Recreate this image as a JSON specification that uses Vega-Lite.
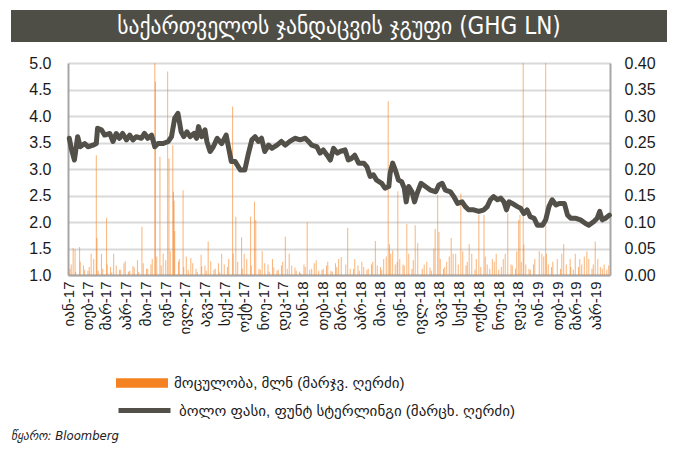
{
  "$schema": "https://vega.github.io/schema/vega-lite/v6.json",
  "padding": {"left": 11, "top": 10, "right": 5, "bottom": 5},
  "background": "white",
  "bounds": "flush",
  "center": true,
  "spacing": 21,
  "config": {"font": "Liberation Sans, DejaVu Sans", "view": {"stroke": null}},
  "title": {"text": "წყარო: Bloomberg", "orient": "bottom", "anchor": "start", "frame": "bounds", "fontSize": 13, "fontStyle": "italic", "fontWeight": "normal", "color": "#222222", "offset": 9, "font": "Liberation Sans Narrow, DejaVu Sans Condensed, DejaVu Sans"},
  "datasets": {
    "price": [
      {"d": "2017-01-03", "p": 3.58}, {"d": "2017-01-06", "p": 3.39}, {"d": "2017-01-11", "p": 3.17}, {"d": "2017-01-16", "p": 3.61},
      {"d": "2017-01-20", "p": 3.42}, {"d": "2017-01-27", "p": 3.48}, {"d": "2017-02-01", "p": 3.42}, {"d": "2017-02-09", "p": 3.45},
      {"d": "2017-02-14", "p": 3.48}, {"d": "2017-02-16", "p": 3.77}, {"d": "2017-02-22", "p": 3.74}, {"d": "2017-02-27", "p": 3.64},
      {"d": "2017-03-07", "p": 3.67}, {"d": "2017-03-12", "p": 3.52}, {"d": "2017-03-17", "p": 3.67}, {"d": "2017-03-22", "p": 3.58},
      {"d": "2017-03-27", "p": 3.67}, {"d": "2017-04-02", "p": 3.55}, {"d": "2017-04-07", "p": 3.64}, {"d": "2017-04-12", "p": 3.55},
      {"d": "2017-04-17", "p": 3.61}, {"d": "2017-04-25", "p": 3.58}, {"d": "2017-04-30", "p": 3.67}, {"d": "2017-05-05", "p": 3.58},
      {"d": "2017-05-11", "p": 3.64}, {"d": "2017-05-16", "p": 3.42}, {"d": "2017-05-21", "p": 3.48}, {"d": "2017-05-29", "p": 3.48},
      {"d": "2017-06-06", "p": 3.52}, {"d": "2017-06-11", "p": 3.61}, {"d": "2017-06-16", "p": 3.96}, {"d": "2017-06-21", "p": 4.05},
      {"d": "2017-06-26", "p": 3.70}, {"d": "2017-06-30", "p": 3.61}, {"d": "2017-07-05", "p": 3.70}, {"d": "2017-07-10", "p": 3.61},
      {"d": "2017-07-16", "p": 3.67}, {"d": "2017-07-20", "p": 3.58}, {"d": "2017-07-23", "p": 3.80}, {"d": "2017-07-28", "p": 3.61},
      {"d": "2017-08-02", "p": 3.74}, {"d": "2017-08-05", "p": 3.52}, {"d": "2017-08-10", "p": 3.33}, {"d": "2017-08-15", "p": 3.42},
      {"d": "2017-08-21", "p": 3.58}, {"d": "2017-08-28", "p": 3.48}, {"d": "2017-09-04", "p": 3.64}, {"d": "2017-09-07", "p": 3.45},
      {"d": "2017-09-12", "p": 3.14}, {"d": "2017-09-18", "p": 3.14}, {"d": "2017-09-26", "p": 2.98}, {"d": "2017-10-03", "p": 2.98},
      {"d": "2017-10-08", "p": 3.26}, {"d": "2017-10-14", "p": 3.55}, {"d": "2017-10-19", "p": 3.61}, {"d": "2017-10-24", "p": 3.52},
      {"d": "2017-10-29", "p": 3.58}, {"d": "2017-11-03", "p": 3.33}, {"d": "2017-11-09", "p": 3.45}, {"d": "2017-11-14", "p": 3.39},
      {"d": "2017-11-22", "p": 3.45}, {"d": "2017-11-29", "p": 3.52}, {"d": "2017-12-05", "p": 3.45}, {"d": "2017-12-12", "p": 3.52},
      {"d": "2017-12-20", "p": 3.58}, {"d": "2017-12-28", "p": 3.55}, {"d": "2018-01-05", "p": 3.58}, {"d": "2018-01-10", "p": 3.52},
      {"d": "2018-01-15", "p": 3.45}, {"d": "2018-01-23", "p": 3.42}, {"d": "2018-01-28", "p": 3.30}, {"d": "2018-02-02", "p": 3.36},
      {"d": "2018-02-08", "p": 3.26}, {"d": "2018-02-13", "p": 3.17}, {"d": "2018-02-18", "p": 3.39}, {"d": "2018-02-24", "p": 3.30},
      {"d": "2018-02-28", "p": 3.33}, {"d": "2018-03-08", "p": 3.36}, {"d": "2018-03-13", "p": 3.17}, {"d": "2018-03-18", "p": 3.20},
      {"d": "2018-03-23", "p": 3.26}, {"d": "2018-03-29", "p": 3.11}, {"d": "2018-04-06", "p": 3.11}, {"d": "2018-04-11", "p": 3.04},
      {"d": "2018-04-16", "p": 2.86}, {"d": "2018-04-21", "p": 2.89}, {"d": "2018-04-26", "p": 2.79}, {"d": "2018-05-04", "p": 2.73},
      {"d": "2018-05-09", "p": 2.64}, {"d": "2018-05-15", "p": 2.67}, {"d": "2018-05-17", "p": 2.92}, {"d": "2018-05-21", "p": 3.11},
      {"d": "2018-05-26", "p": 2.95}, {"d": "2018-05-30", "p": 2.79}, {"d": "2018-06-04", "p": 2.76}, {"d": "2018-06-08", "p": 2.64},
      {"d": "2018-06-11", "p": 2.38}, {"d": "2018-06-15", "p": 2.67}, {"d": "2018-06-20", "p": 2.57}, {"d": "2018-06-24", "p": 2.38},
      {"d": "2018-06-28", "p": 2.54}, {"d": "2018-07-04", "p": 2.73}, {"d": "2018-07-11", "p": 2.67}, {"d": "2018-07-19", "p": 2.60},
      {"d": "2018-07-27", "p": 2.57}, {"d": "2018-08-01", "p": 2.70}, {"d": "2018-08-06", "p": 2.73}, {"d": "2018-08-11", "p": 2.60},
      {"d": "2018-08-19", "p": 2.57}, {"d": "2018-08-24", "p": 2.48}, {"d": "2018-08-30", "p": 2.35}, {"d": "2018-09-06", "p": 2.38},
      {"d": "2018-09-11", "p": 2.29}, {"d": "2018-09-16", "p": 2.23}, {"d": "2018-09-24", "p": 2.23}, {"d": "2018-10-02", "p": 2.20},
      {"d": "2018-10-10", "p": 2.23}, {"d": "2018-10-15", "p": 2.29}, {"d": "2018-10-20", "p": 2.42}, {"d": "2018-10-25", "p": 2.48},
      {"d": "2018-10-31", "p": 2.42}, {"d": "2018-11-05", "p": 2.45}, {"d": "2018-11-10", "p": 2.38}, {"d": "2018-11-14", "p": 2.23},
      {"d": "2018-11-18", "p": 2.38}, {"d": "2018-11-23", "p": 2.35}, {"d": "2018-12-01", "p": 2.29}, {"d": "2018-12-06", "p": 2.26},
      {"d": "2018-12-11", "p": 2.16}, {"d": "2018-12-16", "p": 2.23}, {"d": "2018-12-21", "p": 2.10}, {"d": "2018-12-27", "p": 2.07},
      {"d": "2019-01-01", "p": 1.94}, {"d": "2019-01-09", "p": 1.94}, {"d": "2019-01-14", "p": 2.04}, {"d": "2019-01-19", "p": 2.29},
      {"d": "2019-01-24", "p": 2.42}, {"d": "2019-01-30", "p": 2.32}, {"d": "2019-02-04", "p": 2.35}, {"d": "2019-02-12", "p": 2.35},
      {"d": "2019-02-17", "p": 2.13}, {"d": "2019-02-22", "p": 2.07}, {"d": "2019-03-02", "p": 2.07}, {"d": "2019-03-09", "p": 2.04},
      {"d": "2019-03-17", "p": 1.97}, {"d": "2019-03-22", "p": 1.94}, {"d": "2019-03-30", "p": 2.01}, {"d": "2019-04-04", "p": 2.07},
      {"d": "2019-04-08", "p": 2.20}, {"d": "2019-04-12", "p": 2.04}, {"d": "2019-04-17", "p": 2.07}, {"d": "2019-04-23", "p": 2.13}
    ],
    "vol": [
      {"d": "2017-01-04", "v": 0.012}, {"d": "2017-01-09", "v": 0.051}, {"d": "2017-01-12", "v": 0.048}, {"d": "2017-01-19", "v": 0.053},
      {"d": "2017-01-25", "v": 0.018}, {"d": "2017-02-01", "v": 0.008}, {"d": "2017-02-06", "v": 0.040}, {"d": "2017-02-14", "v": 0.226},
      {"d": "2017-02-15", "v": 0.070}, {"d": "2017-02-22", "v": 0.040}, {"d": "2017-03-02", "v": 0.108}, {"d": "2017-03-08", "v": 0.015},
      {"d": "2017-03-13", "v": 0.040}, {"d": "2017-03-22", "v": 0.010}, {"d": "2017-03-29", "v": 0.022}, {"d": "2017-04-05", "v": 0.006},
      {"d": "2017-04-12", "v": 0.017}, {"d": "2017-04-19", "v": 0.028}, {"d": "2017-04-26", "v": 0.091}, {"d": "2017-05-03", "v": 0.012},
      {"d": "2017-05-10", "v": 0.020}, {"d": "2017-05-16", "v": 0.550}, {"d": "2017-05-17", "v": 0.365}, {"d": "2017-05-24", "v": 0.223},
      {"d": "2017-05-29", "v": 0.040}, {"d": "2017-06-05", "v": 0.384}, {"d": "2017-06-07", "v": 0.220}, {"d": "2017-06-13", "v": 0.245},
      {"d": "2017-06-14", "v": 0.157}, {"d": "2017-06-15", "v": 0.140}, {"d": "2017-06-16", "v": 0.083}, {"d": "2017-06-22", "v": 0.025},
      {"d": "2017-06-29", "v": 0.160}, {"d": "2017-07-04", "v": 0.035}, {"d": "2017-07-11", "v": 0.032}, {"d": "2017-07-19", "v": 0.012},
      {"d": "2017-07-27", "v": 0.038}, {"d": "2017-08-02", "v": 0.018}, {"d": "2017-08-07", "v": 0.063}, {"d": "2017-08-16", "v": 0.010},
      {"d": "2017-08-23", "v": 0.022}, {"d": "2017-08-28", "v": 0.040}, {"d": "2017-09-06", "v": 0.015}, {"d": "2017-09-14", "v": 0.318},
      {"d": "2017-09-19", "v": 0.110}, {"d": "2017-09-28", "v": 0.071}, {"d": "2017-10-02", "v": 0.040}, {"d": "2017-10-12", "v": 0.110},
      {"d": "2017-10-18", "v": 0.138}, {"d": "2017-10-20", "v": 0.104}, {"d": "2017-10-25", "v": 0.012}, {"d": "2017-10-30", "v": 0.045},
      {"d": "2017-11-08", "v": 0.020}, {"d": "2017-11-15", "v": 0.030}, {"d": "2017-11-22", "v": 0.008}, {"d": "2017-11-29", "v": 0.018},
      {"d": "2017-12-05", "v": 0.072}, {"d": "2017-12-11", "v": 0.040}, {"d": "2017-12-20", "v": 0.014}, {"d": "2017-12-27", "v": 0.006},
      {"d": "2018-01-03", "v": 0.020}, {"d": "2018-01-08", "v": 0.100}, {"d": "2018-01-15", "v": 0.012}, {"d": "2018-01-22", "v": 0.028},
      {"d": "2018-01-31", "v": 0.010}, {"d": "2018-02-07", "v": 0.018}, {"d": "2018-02-14", "v": 0.008}, {"d": "2018-02-21", "v": 0.022},
      {"d": "2018-02-26", "v": 0.030}, {"d": "2018-03-02", "v": 0.034}, {"d": "2018-03-12", "v": 0.089}, {"d": "2018-03-21", "v": 0.012},
      {"d": "2018-03-28", "v": 0.018}, {"d": "2018-04-03", "v": 0.025}, {"d": "2018-04-11", "v": 0.010}, {"d": "2018-04-18", "v": 0.020},
      {"d": "2018-04-24", "v": 0.064}, {"d": "2018-05-02", "v": 0.015}, {"d": "2018-05-07", "v": 0.030}, {"d": "2018-05-14", "v": 0.328},
      {"d": "2018-05-16", "v": 0.058}, {"d": "2018-05-21", "v": 0.046}, {"d": "2018-05-28", "v": 0.025}, {"d": "2018-05-29", "v": 0.158},
      {"d": "2018-06-06", "v": 0.020}, {"d": "2018-06-12", "v": 0.096}, {"d": "2018-06-15", "v": 0.040}, {"d": "2018-06-20", "v": 0.012},
      {"d": "2018-06-25", "v": 0.094}, {"d": "2018-06-29", "v": 0.060}, {"d": "2018-07-09", "v": 0.020}, {"d": "2018-07-18", "v": 0.014},
      {"d": "2018-07-24", "v": 0.050}, {"d": "2018-07-26", "v": 0.087}, {"d": "2018-07-30", "v": 0.151}, {"d": "2018-08-01", "v": 0.081},
      {"d": "2018-08-08", "v": 0.012}, {"d": "2018-08-13", "v": 0.025}, {"d": "2018-08-20", "v": 0.070}, {"d": "2018-08-23", "v": 0.040},
      {"d": "2018-08-27", "v": 0.040}, {"d": "2018-09-04", "v": 0.154}, {"d": "2018-09-12", "v": 0.018}, {"d": "2018-09-17", "v": 0.058},
      {"d": "2018-09-21", "v": 0.040}, {"d": "2018-09-26", "v": 0.010}, {"d": "2018-10-02", "v": 0.113}, {"d": "2018-10-10", "v": 0.113},
      {"d": "2018-10-15", "v": 0.020}, {"d": "2018-10-23", "v": 0.030}, {"d": "2018-10-29", "v": 0.040}, {"d": "2018-11-06", "v": 0.015},
      {"d": "2018-11-12", "v": 0.040}, {"d": "2018-11-16", "v": 0.116}, {"d": "2018-11-21", "v": 0.020}, {"d": "2018-11-28", "v": 0.012},
      {"d": "2018-12-03", "v": 0.104}, {"d": "2018-12-05", "v": 0.113}, {"d": "2018-12-10", "v": 0.600}, {"d": "2018-12-11", "v": 0.057},
      {"d": "2018-12-14", "v": 0.020}, {"d": "2018-12-19", "v": 0.012}, {"d": "2018-12-26", "v": 0.020}, {"d": "2019-01-04", "v": 0.045},
      {"d": "2019-01-08", "v": 0.040}, {"d": "2019-01-14", "v": 0.600}, {"d": "2019-01-15", "v": 0.040}, {"d": "2019-01-18", "v": 0.020},
      {"d": "2019-01-23", "v": 0.015}, {"d": "2019-02-01", "v": 0.030}, {"d": "2019-02-06", "v": 0.012}, {"d": "2019-02-11", "v": 0.058},
      {"d": "2019-02-15", "v": 0.020}, {"d": "2019-02-21", "v": 0.030}, {"d": "2019-02-26", "v": 0.010}, {"d": "2019-03-01", "v": 0.040},
      {"d": "2019-03-06", "v": 0.015}, {"d": "2019-03-11", "v": 0.020}, {"d": "2019-03-15", "v": 0.035}, {"d": "2019-03-22", "v": 0.030},
      {"d": "2019-03-27", "v": 0.012}, {"d": "2019-04-01", "v": 0.063}, {"d": "2019-04-09", "v": 0.015}, {"d": "2019-04-15", "v": 0.020},
      {"d": "2019-04-19", "v": 0.010},
      {"d": "2017-01-06", "v": 0.020}, {"d": "2017-01-13", "v": 0.006}, {"d": "2017-01-20", "v": 0.025}, {"d": "2017-01-27", "v": 0.010},
      {"d": "2017-02-03", "v": 0.015}, {"d": "2017-02-10", "v": 0.030}, {"d": "2017-02-17", "v": 0.008}, {"d": "2017-02-24", "v": 0.012},
      {"d": "2017-03-03", "v": 0.020}, {"d": "2017-03-10", "v": 0.005}, {"d": "2017-03-17", "v": 0.018}, {"d": "2017-03-24", "v": 0.010},
      {"d": "2017-03-31", "v": 0.026}, {"d": "2017-04-07", "v": 0.008}, {"d": "2017-04-14", "v": 0.014}, {"d": "2017-04-21", "v": 0.006},
      {"d": "2017-04-28", "v": 0.022}, {"d": "2017-05-05", "v": 0.012}, {"d": "2017-05-12", "v": 0.030}, {"d": "2017-05-19", "v": 0.035},
      {"d": "2017-05-26", "v": 0.018}, {"d": "2017-06-02", "v": 0.028}, {"d": "2017-06-09", "v": 0.045}, {"d": "2017-06-23", "v": 0.030},
      {"d": "2017-06-30", "v": 0.015}, {"d": "2017-07-07", "v": 0.010}, {"d": "2017-07-14", "v": 0.022}, {"d": "2017-07-21", "v": 0.006},
      {"d": "2017-07-28", "v": 0.016}, {"d": "2017-08-04", "v": 0.008}, {"d": "2017-08-11", "v": 0.026}, {"d": "2017-08-18", "v": 0.012},
      {"d": "2017-08-25", "v": 0.005}, {"d": "2017-09-01", "v": 0.020}, {"d": "2017-09-08", "v": 0.030}, {"d": "2017-09-15", "v": 0.040},
      {"d": "2017-09-22", "v": 0.025}, {"d": "2017-09-29", "v": 0.012}, {"d": "2017-10-06", "v": 0.030}, {"d": "2017-10-13", "v": 0.018},
      {"d": "2017-10-27", "v": 0.010}, {"d": "2017-11-03", "v": 0.022}, {"d": "2017-11-10", "v": 0.006}, {"d": "2017-11-17", "v": 0.014},
      {"d": "2017-11-24", "v": 0.010}, {"d": "2017-12-01", "v": 0.025}, {"d": "2017-12-08", "v": 0.012}, {"d": "2017-12-15", "v": 0.018},
      {"d": "2017-12-22", "v": 0.008}, {"d": "2017-12-29", "v": 0.004}, {"d": "2018-01-05", "v": 0.015}, {"d": "2018-01-12", "v": 0.010},
      {"d": "2018-01-19", "v": 0.022}, {"d": "2018-01-26", "v": 0.008}, {"d": "2018-02-02", "v": 0.012}, {"d": "2018-02-09", "v": 0.025},
      {"d": "2018-02-16", "v": 0.006}, {"d": "2018-02-23", "v": 0.015}, {"d": "2018-03-09", "v": 0.020}, {"d": "2018-03-16", "v": 0.012},
      {"d": "2018-03-23", "v": 0.030}, {"d": "2018-03-30", "v": 0.008}, {"d": "2018-04-06", "v": 0.015}, {"d": "2018-04-13", "v": 0.012},
      {"d": "2018-04-20", "v": 0.025}, {"d": "2018-04-27", "v": 0.018}, {"d": "2018-05-04", "v": 0.010}, {"d": "2018-05-11", "v": 0.035},
      {"d": "2018-05-18", "v": 0.040}, {"d": "2018-05-25", "v": 0.020}, {"d": "2018-06-01", "v": 0.030}, {"d": "2018-06-08", "v": 0.018},
      {"d": "2018-06-22", "v": 0.028}, {"d": "2018-07-06", "v": 0.012}, {"d": "2018-07-13", "v": 0.025}, {"d": "2018-07-20", "v": 0.008},
      {"d": "2018-08-03", "v": 0.030}, {"d": "2018-08-10", "v": 0.015}, {"d": "2018-08-17", "v": 0.035}, {"d": "2018-08-31", "v": 0.020},
      {"d": "2018-09-07", "v": 0.045}, {"d": "2018-09-14", "v": 0.025}, {"d": "2018-09-28", "v": 0.030}, {"d": "2018-10-05", "v": 0.015},
      {"d": "2018-10-12", "v": 0.035}, {"d": "2018-10-19", "v": 0.012}, {"d": "2018-10-26", "v": 0.025}, {"d": "2018-11-02", "v": 0.010},
      {"d": "2018-11-09", "v": 0.030}, {"d": "2018-11-23", "v": 0.018}, {"d": "2018-11-30", "v": 0.045}, {"d": "2018-12-07", "v": 0.025},
      {"d": "2018-12-21", "v": 0.010}, {"d": "2018-12-28", "v": 0.030}, {"d": "2019-01-11", "v": 0.035}, {"d": "2019-01-25", "v": 0.025},
      {"d": "2019-02-08", "v": 0.040}, {"d": "2019-02-22", "v": 0.015}, {"d": "2019-03-08", "v": 0.030}, {"d": "2019-03-19", "v": 0.045},
      {"d": "2019-03-29", "v": 0.020}, {"d": "2019-04-05", "v": 0.030}, {"d": "2019-04-12", "v": 0.012}, {"d": "2019-04-22", "v": 0.018}
    ]
  },
  "vconcat": [
    {
      "width": 656,
      "height": 32,
      "view": {"fill": "#4f4e46", "stroke": null},
      "data": {"values": [{"t": "საქართველოს ჯანდაცვის ჯგუფი (GHG LN)"}]},
      "mark": {"type": "text", "color": "white", "fontSize": 24, "fontWeight": "normal", "align": "center", "baseline": "middle", "dy": 1, "font": "Liberation Sans Narrow, DejaVu Sans Condensed, DejaVu Sans"},
      "encoding": {"text": {"field": "t"}}
    },
    {
      "width": 542,
      "height": 212,
      "layer": [
        {
          "data": {"name": "vol"},
          "mark": {"type": "bar", "width": 1, "opacity": 0.6, "clip": true},
          "encoding": {
            "x": {"field": "d", "type": "temporal",
              "scale": {"domain": [{"year": 2017, "month": 1, "date": 1}, {"year": 2019, "month": 4, "date": 24}], "padding": 0, "nice": false},
              "axis": {"title": null, "tickCount": {"interval": "month", "step": 1}, "labelExpr": "['იან','თებ','მარ','აპრ','მაი','ივნ','ივლ','აგვ','სექ','ოქტ','ნოე','დეკ'][month(datum.value)] + '-' + timeFormat(datum.value, '%y')", "labelAngle": 270, "labelFontSize": 15, "labelColor": "#1a1a1a", "labelPadding": 6, "ticks": false, "grid": false, "domainColor": "#a6a6a6", "domainWidth": 2, "labelOverlap": false, "labelFlush": false, "labelBound": false}},
            "y": {"field": "v", "type": "quantitative", "stack": null,
              "scale": {"domain": [0, 0.4], "nice": false, "zero": true},
              "axis": {"orient": "right", "title": null, "values": [0, 0.05, 0.1, 0.15, 0.2, 0.25, 0.3, 0.35, 0.4], "format": ".2f", "labelFontSize": 16, "labelColor": "#1a1a1a", "labelPadding": 14, "ticks": false, "grid": false, "domainColor": "#a6a6a6", "domainWidth": 2}},
            "color": {"datum": "მოცულობა, მლნ (მარჯვ. ღერძი)", "type": "nominal",
              "scale": {"range": ["#f58220"]},
              "legend": {"orient": "none", "legendX": 48, "legendY": 294, "title": null, "symbolType": "M-1,-0.18H1V0.18H-1Z", "symbolSize": 2704, "symbolOpacity": 1, "symbolStrokeWidth": 0, "labelFontSize": 15, "labelColor": "#1a1a1a", "labelLimit": 600, "labelOffset": 6, "padding": 0}}
          }
        },
        {
          "data": {"name": "price"},
          "mark": {"type": "line", "strokeWidth": 5, "strokeJoin": "round", "strokeCap": "round"},
          "encoding": {
            "x": {"field": "d", "type": "temporal"},
            "y": {"field": "p", "type": "quantitative",
              "scale": {"domain": [1, 5], "nice": false, "zero": false},
              "axis": {"orient": "left", "title": null, "values": [1, 1.5, 2, 2.5, 3, 3.5, 4, 4.5, 5], "format": ".1f", "labelFontSize": 16, "labelColor": "#1a1a1a", "labelPadding": 17, "ticks": false, "grid": true, "gridColor": "#d9d9d9", "gridWidth": 2, "domainColor": "#a6a6a6", "domainWidth": 2}},
            "color": {"datum": "ბოლო ფასი, ფუნტ სტერლინგი (მარცხ. ღერძი)", "type": "nominal",
              "scale": {"range": ["#525048"]},
              "legend": {"orient": "none", "legendX": 48, "legendY": 319, "title": null, "symbolType": "M-1,0H1", "symbolSize": 2704, "symbolStrokeWidth": 5, "labelFontSize": 15, "labelColor": "#1a1a1a", "labelLimit": 600, "labelOffset": 6, "padding": 0}}
          }
        }
      ],
      "resolve": {"scale": {"y": "independent", "color": "independent"}, "legend": {"color": "independent"}}
    }
  ]
}
